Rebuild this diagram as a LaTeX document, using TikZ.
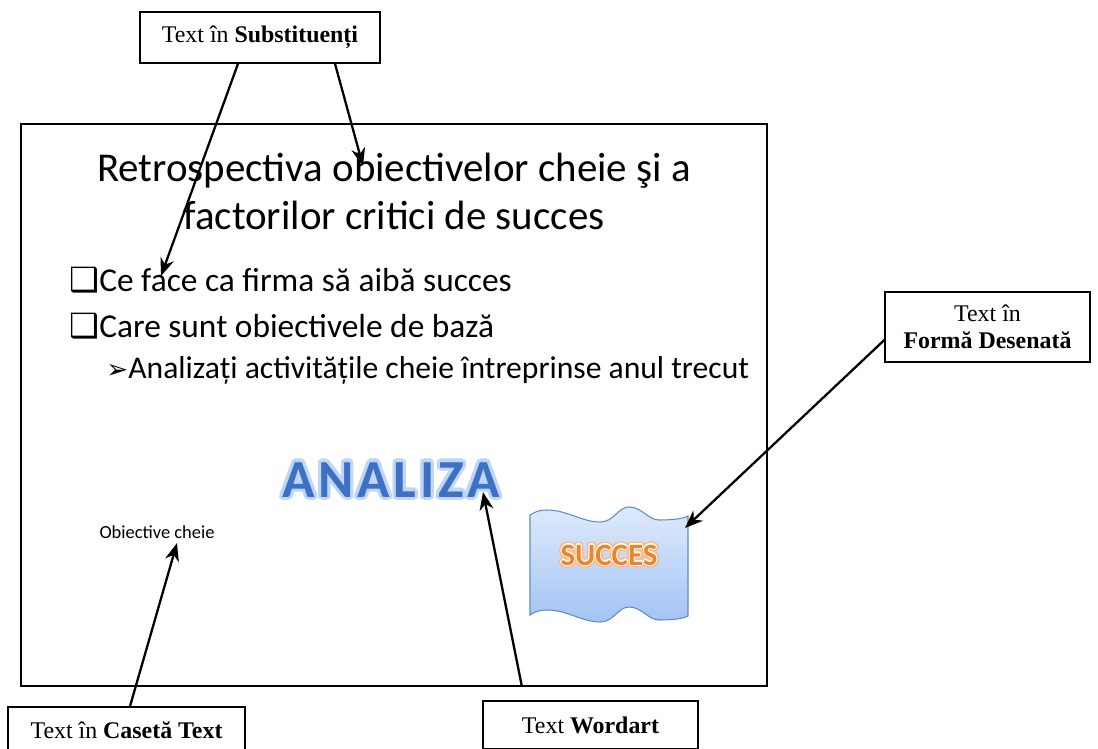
\documentclass[tikz,border=0pt]{standalone}
\usepackage{fontspec}
\setmainfont{Liberation Serif}
\newfontfamily\slidefont{Carlito}
\newfontfamily\wordfont{Carlito}[LetterSpace=7]
\newfontfamily\symfont{DejaVu Sans}
\usepackage{tikz}
\usetikzlibrary{arrows.meta,positioning}
\definecolor{waveTop}{RGB}{222,234,252}
\definecolor{waveBot}{RGB}{163,196,244}
\definecolor{waveLine}{RGB}{95,140,200}
\definecolor{artBlue}{RGB}{62,112,196}
\definecolor{artGlow}{RGB}{190,215,248}
\definecolor{sucOrange}{RGB}{242,130,40}
\definecolor{sucGlow}{RGB}{250,185,130}

\begin{document}
\begin{tikzpicture}[
    x=0.02cm, y=-0.02cm,
    label/.style={draw, line width=0.8pt, inner sep=2pt, align=center, font=\fontsize{13.6}{15.5}\selectfont},
    arr/.style={-{Stealth[length=3.6mm,width=2.8mm]}, line width=1.3pt},
    slidetxt/.style={anchor=base west, inner sep=0pt, font=\slidefont\fontsize{19}{22}\selectfont},
    titletxt/.style={anchor=base, inner sep=0pt, font=\slidefont\fontsize{23.3}{27}\selectfont},
    arttext/.style={anchor=base, inner sep=0pt, text=artBlue, font=\wordfont\bfseries\fontsize{30.5}{34}\selectfont},
    suctext/.style={anchor=base, inner sep=0pt, text=sucOrange, font=\slidefont\bfseries\fontsize{17.6}{20}\selectfont}
]
\useasboundingbox (0,0) rectangle (1098,749);
\node[draw, line width=1.1pt, minimum width=14.92cm, minimum height=11.24cm] (slide) at (394,405) {};
\node[titletxt] (title1) at (394,182) {Retrospectiva obiectivelor cheie şi a};
\node[titletxt] (title2) at (394,230) {factorilor critici de succes};
\node[slidetxt] (b1) at (69,292) {{\symfont ❑}Ce face ca firma să aibă succes};
\node[slidetxt] (b2) at (69,338) {{\symfont ❑}Care sunt obiectivele de bază};
\node[slidetxt, font=\slidefont\fontsize{18}{21}\selectfont] (b3) at (106,379) {{\symfont\fontsize{15}{18}\selectfont ➢}Analizați activitățile cheie întreprinse anul trecut};
\node[anchor=base, inner sep=0pt, font=\slidefont\fontsize{10.5}{12}\selectfont] (obj) at (157,538) {Obiective cheie};

\foreach \a in {0,22.5,...,337.5}
  \node[arttext, text=artGlow, shift={(\a:1.8pt)}] at (391,497) {ANALIZA};
\node[arttext] (analiza) at (391,497) {ANALIZA};

\path[top color=waveTop, bottom color=waveBot, draw=waveLine, line width=0.6pt]
  (530,515) .. controls (536,511) and (541,510) .. (547,510) .. controls (567,510) and (582,522) .. (600,522)
  .. controls (614,522) and (618,507) .. (629,507) .. controls (642,507) and (648,520) .. (659,520)
  .. controls (672,520) and (682,519) .. (688,516) -- (688,616)
  .. controls (682,619) and (672,620) .. (659,620) .. controls (648,620) and (642,607) .. (629,607)
  .. controls (618,607) and (614,622) .. (600,622) .. controls (582,622) and (567,610) .. (547,610)
  .. controls (541,610) and (536,611) .. (530,615) -- cycle;
\foreach \a in {0,30,...,330}
  \node[suctext, text=sucGlow, shift={(\a:1.5pt)}] at (609,565) {SUCCES};
\foreach \a in {0,45,...,315}
  \node[suctext, text=white, shift={(\a:0.6pt)}] at (609,565) {SUCCES};
\node[suctext] (succes) at (609,565) {SUCCES};

\node[label, minimum width=4.8cm, minimum height=1.02cm] (subst) at (260,37.5) {Text în \textbf{Substituenți}};
\node[label, minimum width=4.1cm, minimum height=1.4cm] (forma) at (987.5,327) {Text în\\\textbf{Formă Desenată}};
\node[label, minimum width=4.74cm, minimum height=0.92cm] (caseta) at (126.5,730) {Text în \textbf{Casetă Text}};
\node[label, minimum width=4.3cm, minimum height=0.96cm] (wordbox) at (590.5,725) {Text \textbf{Wordart}};

\coordinate (tipface) at (161,276);
\coordinate (tipobj) at (363,166);
\coordinate (tipwave) at (685,528);
\coordinate (tipart) at (483,492);
\coordinate (tipcheie) at (177,543);

\draw[arr] ([xshift=-0.44cm]subst.south) -- (tipface);
\draw[arr] ([xshift=1.5cm]subst.south) -- (tipobj);
\draw[arr] ([yshift=-0.26cm]forma.west) -- (tipwave);
\draw[arr] ([xshift=2.56cm]slide.south) -- (tipart);
\draw[arr] ([xshift=0.07cm]caseta.north) -- (tipcheie);
\end{tikzpicture}
\end{document}
